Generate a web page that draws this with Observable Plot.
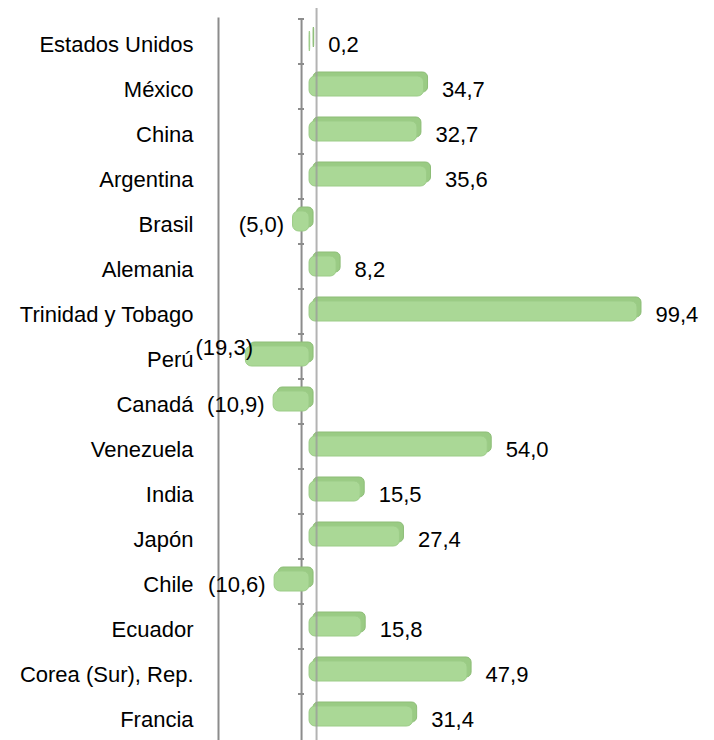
<!DOCTYPE html>
<html>
<head>
<meta charset="utf-8">
<script src="https://cdn.jsdelivr.net/npm/d3@7"></script>
<script src="https://cdn.jsdelivr.net/npm/@observablehq/plot@0.6"></script>
<style>
  html, body { margin: 0; padding: 0; background: #fff; }
  #chart svg { display: block; }
</style>
</head>
<body>
<div id="chart"></div>
<script>
const categories = [
  "Estados Unidos", "México", "China", "Argentina", "Brasil", "Alemania",
  "Trinidad y Tobago", "Perú", "Canadá", "Venezuela", "India", "Japón",
  "Chile", "Ecuador", "Corea (Sur), Rep.", "Francia"
];
const values = [0.2, 34.7, 32.7, 35.6, -5.0, 8.2, 99.4, -19.3, -10.9, 54.0, 15.5, 27.4, -10.6, 15.8, 47.9, 31.4];

const W = 714, H = 740, ML = 218, MR = 14;
const xDomain = [-27.6, 118.5];
const FS = 22;

const data = categories.map((c, i) => ({cat: c, value: values[i]}));
const fmt = v => {
  const s = Math.abs(v).toFixed(1).replace(".", ",");
  return v < 0 ? `(${s})` : s;
};
// pixel position of a value (decides whether a negative label fits left of its bar
// without running into the category labels)
const px = v => ML + (v - xDomain[0]) / (xDomain[1] - xDomain[0]) * (W - ML - MR);
const fits = d => px(d.value) - 9 - fmt(d.value).length * 0.45 * FS >= ML - 20;

const font = "'Liberation Sans', Arial, sans-serif";

const chart = Plot.plot({
  width: W,
  height: H,
  marginTop: 18,
  marginBottom: 0,
  marginLeft: ML,
  marginRight: MR,
  style: {fontFamily: font, fontSize: FS + "px", color: "#000", background: "#fff"},
  x: {domain: xDomain, axis: null},
  y: {domain: categories, paddingInner: 0.55, paddingOuter: 0.275, label: null},
  marks: [
    Plot.frame({anchor: "left", stroke: "#8c8c8c", strokeWidth: 2}),
    Plot.ruleX([0], {dx: -8, stroke: "#8c8c8c", strokeWidth: 2}),
    Plot.axisY({anchor: "left", tickSize: 6, dx: 86, dy: -22.5, tickFormat: () => "", stroke: "#8c8c8c", strokeWidth: 2, label: null}),
    Plot.axisY({anchor: "left", tickSize: 0, tickPadding: 25, dy: 3, fontSize: FS, label: null, fill: "#000"}),
    Plot.barX(data, {x: "value", y: "cat", dx: 4, dy: -4, fill: "#9acb84", stroke: "#8dbd77", strokeWidth: 1, rx: 5}),
    Plot.barX(data, {x: "value", y: "cat", fill: "#aad896", stroke: "#9ccc87", strokeWidth: 1, rx: 6}),
    Plot.ruleX([0], {dx: 7, stroke: "#9a9a9a", strokeOpacity: 0.75, strokeWidth: 2, insetTop: -10}),
    Plot.text(data.filter(d => d.value >= 0), {x: "value", y: "cat", text: d => fmt(d.value), textAnchor: "start", dx: 18, dy: 3, fontSize: FS, fill: "#000"}),
    Plot.text(data.filter(d => d.value < 0 && fits(d)), {x: "value", y: "cat", text: d => fmt(d.value), textAnchor: "end", dx: -9, dy: 3, fontSize: FS, fill: "#000"}),
    Plot.text(data.filter(d => d.value < 0 && !fits(d)), {x: () => xDomain[0], y: "cat", text: d => fmt(d.value), textAnchor: "start", dx: -23, dy: -9, fontSize: FS, fill: "#000"})
  ]
});
document.getElementById("chart").appendChild(chart);
</script>
</body>
</html>
